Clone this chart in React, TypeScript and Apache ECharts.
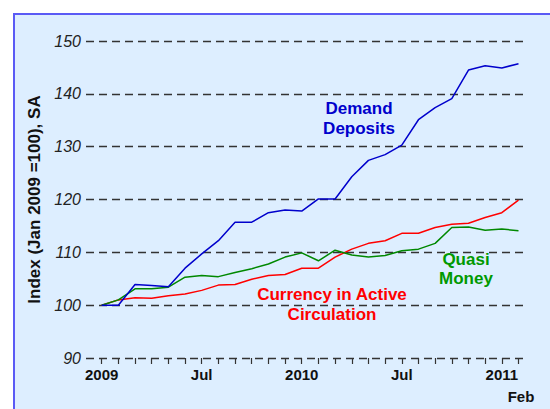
import React, { useEffect, useRef } from "react";
import * as echarts from "echarts";

// Months Jan 2009 .. Feb 2011 (index 0..25)
const months = [
  "2009-01","2009-02","2009-03","2009-04","2009-05","2009-06","2009-07","2009-08","2009-09","2009-10","2009-11","2009-12",
  "2010-01","2010-02","2010-03","2010-04","2010-05","2010-06","2010-07","2010-08","2010-09","2010-10","2010-11","2010-12",
  "2011-01","2011-02",
];
const demandDeposits = [100,100,103.9,103.7,103.5,107.0,109.7,112.2,115.7,115.7,117.5,118.0,117.8,120.1,120.1,124.3,127.4,128.5,130.3,135.1,137.4,139.1,144.5,145.3,144.9,145.7];
const quasiMoney = [100,101.0,103.1,103.1,103.4,105.3,105.6,105.4,106.2,106.9,107.8,109.1,109.9,108.4,110.4,109.5,109.1,109.4,110.3,110.6,111.7,114.7,114.8,114.2,114.4,114.1];
const currency = [100,101.0,101.4,101.3,101.8,102.1,102.8,103.8,103.9,104.9,105.6,105.8,107.0,107.0,109.1,110.6,111.7,112.2,113.6,113.6,114.7,115.3,115.5,116.6,117.5,119.9];
const tickLabels: Record<number, string> = { 0: "2009", 6: "Jul", 12: "2010", 18: "Jul", 24: "2011" };
const secondLineLabels: Record<number, string> = { 25: "Feb" };
const yTicks = [90, 150, 10];

const FONT = "'Liberation Sans', Arial, Helvetica, sans-serif";

export default function App() {
  const ref = useRef<HTMLDivElement>(null);
  useEffect(() => {
    const chart = echarts.init(ref.current!, null, { renderer: "svg" });
    const toPts = (arr: number[]) => arr.map((v, i) => [i, v]);
    const grid = "#333333";
    const xBase = { type: "value", min: -0.94, max: 25.57, axisLine: { show: false }, splitLine: { show: false } };
    const labelBase = { fontFamily: FONT, fontWeight: "bold", fontSize: 15, color: "#111", hideOverlap: false };
    chart.setOption({
      animation: false,
      backgroundColor: "#ffffff",
      textStyle: { fontFamily: FONT },
      grid: { left: 86, right: 22, top: 41, bottom: 51, containLabel: false },
      xAxis: [
        {
          ...xBase,
          axisTick: {
            show: true,
            customValues: months.map((_, i) => i),
            length: 6,
            lineStyle: { color: grid, width: 1.2 },
          },
          axisLabel: {
            ...labelBase,
            customValues: Object.keys(tickLabels).map(Number),
            formatter: (v: number) => tickLabels[Math.round(v)] ?? "",
            margin: 9,
          },
        },
        {
          ...xBase,
          position: "bottom",
          axisTick: { show: false },
          axisLabel: {
            ...labelBase,
            customValues: Object.keys(secondLineLabels).map(Number),
            formatter: (v: number) => secondLineLabels[Math.round(v)] ?? "",
            margin: 31,
            padding: [0, 0, 0, 5],
          },
        },
      ],
      yAxis: {
        type: "value",
        min: yTicks[0],
        max: yTicks[1],
        interval: yTicks[2],
        name: "Index (Jan 2009 =100), SA",
        nameLocation: "middle",
        nameGap: 43,
        nameTextStyle: { fontFamily: FONT, fontWeight: "bold", fontSize: 17, color: "#111" },
        axisLine: { show: false },
        axisTick: { show: false },
        axisLabel: {
          fontFamily: FONT,
          fontStyle: "italic",
          fontSize: 16,
          color: "#222",
          margin: 5,
        },
        splitLine: {
          show: true,
          lineStyle: { color: grid, width: 1.3, type: [8, 5] },
        },
      },
      graphic: [
        {
          type: "rect",
          z: -100,
          silent: true,
          shape: { x: 14, y: 14, width: 600, height: 500 },
          style: { fill: "#DDEEFF", stroke: "#5A5AF5", lineWidth: 2 },
        },
        {
          type: "text",
          x: 359, y: 118, z: 100,
          style: {
            text: "Demand\nDeposits", fill: "#0000CC", font: `bold 17px ${FONT}`,
            align: "center", verticalAlign: "middle", lineHeight: 20,
          },
        },
        {
          type: "text",
          x: 332, y: 304, z: 100,
          style: {
            text: "Currency in Active\nCirculation", fill: "#FF0000", font: `bold 17px ${FONT}`,
            align: "center", verticalAlign: "middle", lineHeight: 20,
          },
        },
        {
          type: "text",
          x: 466, y: 268.5, z: 100,
          style: {
            text: "Quasi\nMoney", fill: "#009900", font: `bold 17px ${FONT}`,
            align: "center", verticalAlign: "middle", lineHeight: 19,
          },
        },
      ],
      series: [
        { type: "line", name: "Currency in Active Circulation", data: toPts(currency), showSymbol: false, lineStyle: { color: "#FF0000", width: 1.5 }, itemStyle: { color: "#FF0000" } },
        { type: "line", name: "Quasi Money", data: toPts(quasiMoney), showSymbol: false, lineStyle: { color: "#008800", width: 1.5 }, itemStyle: { color: "#008800" } },
        { type: "line", name: "Demand Deposits", data: toPts(demandDeposits), showSymbol: false, lineStyle: { color: "#0000CC", width: 1.5 }, itemStyle: { color: "#0000CC" } },
      ],
    });
    return () => chart.dispose();
  }, []);
  return <div ref={ref} style={{ position: "fixed", left: 0, top: 0, width: 550, height: 409 }} />;
}
